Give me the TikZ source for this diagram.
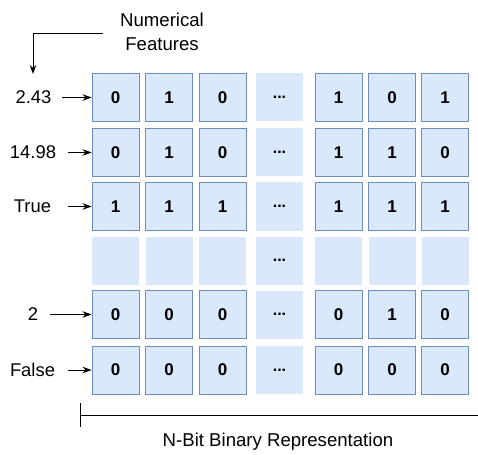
\documentclass[tikz,border=0pt]{standalone}
\usepackage{fontspec}
\setmainfont{Liberation Sans}
\usetikzlibrary{arrows.meta}
\definecolor{cellfill}{HTML}{DAE8FC}
\definecolor{celledge}{HTML}{6C8EBF}
\begin{document}
\begin{tikzpicture}[x=1pt,y=-1pt,
  bitcell/.style={draw=celledge,fill=cellfill,line width=0.9pt,minimum width=47pt,minimum height=48pt,inner sep=0pt,font=\fontsize{17}{19}\selectfont\bfseries},
  gapcell/.style={fill=cellfill,minimum width=47pt,minimum height=48pt,inner sep=0pt,font=\fontsize{16}{18}\selectfont\bfseries},
  rowlabel/.style={font=\fontsize{18.4}{20}\selectfont,inner sep=0pt,anchor=center},
  feed/.style={-{Stealth[length=9pt,width=6.5pt]},line width=0.9pt},
  caption/.style={font=\fontsize{18.6}{24}\selectfont,align=center,inner sep=0pt}]
\useasboundingbox (0,0) rectangle (478,454);

% column and row centres
\def\colx{{115.5,169,222.5,279.5,338.5,392,445}}
\def\rowy{{97.5,152.5,206.5,260.5,314.5,370}}

% bit rows (dots column drawn without border)
\foreach \r/\bits in {0/{0,1,0,0,1,0,1},1/{0,1,0,0,1,1,0},2/{1,1,1,0,1,1,1},4/{0,0,0,0,0,1,0},5/{0,0,0,0,0,0,0}}{
  \foreach \b [count=\c from 0] in \bits {
    \pgfmathsetmacro\cx{\colx[\c]}
    \pgfmathsetmacro\cy{\rowy[\r]}
    \ifnum\c=3
      \node[gapcell] (b\r-\c) at (\cx,\cy) {...};
    \else
      \node[bitcell] (b\r-\c) at (\cx,\cy) {\b};
    \fi
  }
}
% skipped row
\foreach \c in {0,...,6}{
  \pgfmathsetmacro\cx{\colx[\c]}
  \ifnum\c=3
    \node[gapcell] (b3-\c) at (\cx,260.5) {...};
  \else
    \node[gapcell] (b3-\c) at (\cx,260.5) {};
  \fi
}

% feature values feeding each row
\node[rowlabel] (l0) at (33.5,97.5) {2.43};
\node[rowlabel] (l1) at (33,152.5) {14.98};
\node[rowlabel] (l2) at (32.5,206.5) {True};
\node[rowlabel] (l4) at (33,314.5) {2};
\node[rowlabel] (l5) at (32.5,370) {False};
\draw[feed] (62,97.5) -- (b0-0.west);
\draw[feed] (68,152.5) -- (b1-0.west);
\draw[feed] (68,206.5) -- (b2-0.west);
\draw[feed] (50,314.5) -- (b4-0.west);
\draw[feed] (68,370) -- (b5-0.west);

% heading with elbow arrow
\node[caption] (feat) at (162,32) {Numerical\\Features};
\coordinate (elbow) at (33,33);
\coordinate (tip) at (33,74);
\draw[feed] (103,33) -- (elbow) -- (tip);

% width bracket
\coordinate (brL) at (80,415);
\coordinate (brR) at (480,415);
\draw[line width=0.9pt] (brL) -- (brR);
\draw[line width=0.9pt] (80,403) -- (80,427);
\node[caption] (nbit) at (278,442) {N-Bit Binary Representation};
\end{tikzpicture}
\end{document}
